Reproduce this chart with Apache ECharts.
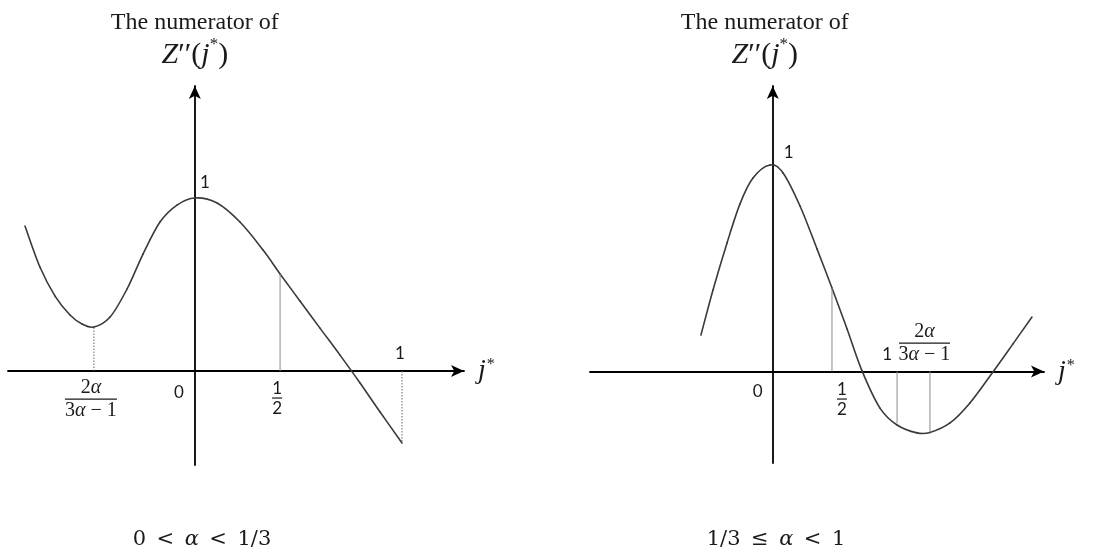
<!DOCTYPE html>
<html>
<head>
<meta charset="utf-8">
<script src="https://cdn.jsdelivr.net/npm/echarts@6/dist/echarts.min.js"></script>
<style>
  html, body { margin: 0; padding: 0; background: #ffffff; }
  #chart { width: 1096px; height: 559px; }
</style>
</head>
<body>
<div id="chart"></div>
<script>
// ---- Case 0 < α < 1/3 : sketch of the numerator of Z''(j*) ----
const leftCurveX = [-1.0, -0.912, -0.823, -0.735, -0.664, -0.594, -0.499, -0.399, -0.305, -0.205, -0.105, 0, 0.131, 0.266, 0.402, 0.502, 0.619, 0.737, 0.855, 0.973, 1.091, 1.22];
const leftCurveY = [0.838, 0.601, 0.433, 0.324, 0.272, 0.254, 0.312, 0.474, 0.676, 0.861, 0.959, 1.0, 0.971, 0.861, 0.699, 0.561, 0.405, 0.248, 0.092, -0.069, -0.237, -0.416];
// marked points on the j* axis and the curve height above them
const leftMarkX = [-0.594, 0.502, 1.22];
const leftMarkY = [0.254, 0.561, -0.416];
const leftMarkLabels = [['2α', '3α − 1'], ['1', '2'], ['1']];
const leftRangeX = [-1.1, 1.585];
const leftRangeY = [-0.543, 1.647];

// ---- Case 1/3 ≤ α < 1 ----
const rightCurveX = [-0.609, -0.507, -0.388, -0.278, -0.168, -0.024, 0.087, 0.231, 0.375, 0.502, 0.630, 0.757, 0.909, 1.054, 1.223, 1.333, 1.503, 1.672, 1.867, 2.037, 2.198];
const rightCurveY = [0.177, 0.395, 0.623, 0.812, 0.937, 1.0, 0.962, 0.802, 0.594, 0.405, 0.206, 0.003, -0.177, -0.259, -0.297, -0.295, -0.249, -0.152, -0.002, 0.134, 0.264];
const rightMarkX = [0.502, 1.054, 1.333];
const rightMarkY = [0.405, -0.25, -0.295];
const rightMarkLabels = [['1', '2'], ['1'], ['2α', '3α − 1']];
const rightRangeX = [-1.55, 2.3];
const rightRangeY = [-0.443, 1.383];

// values written on the vertical axis (origin and the peak height)
const axisNoteY = [0, 1];
const axisNoteLabels = ['0', '1'];

const titleText = 'The numerator of';
const caseLabels = ['0 < α < 1/3', '1/3 ≤ α < 1'];

// ---- styles ----
const FONT_NUM = 'Lato, "Open Sans", sans-serif';
const FONT_MATH = '"Liberation Serif", "DejaVu Serif", serif';
const FONT_CASE = '"DejaVu Serif", serif';
const INK = '#1a1a1a';
const CURVE = '#3a3a3a';

function italicAlpha(s) {
  return s.replace(/α/g, '{i|α}');
}

function textEl(x, y, str, font, align, vAlign) {
  const isMath = font === 'math';
  return {
    type: 'text', x: x, y: y,
    style: {
      text: italicAlpha(str),
      fontFamily: isMath ? FONT_MATH : FONT_NUM,
      fontSize: isMath ? 20 : 17,
      fill: INK,
      align: align || 'center',
      verticalAlign: vAlign || 'middle',
      rich: { i: { fontFamily: FONT_MATH, fontStyle: 'italic', fontSize: 20, fill: INK } }
    }
  };
}

function fractionEls(cx, by, num, den, barW, font) {
  return [
    textEl(cx, by - 1, num, font, 'center', 'bottom'),
    { type: 'line', shape: { x1: cx - barW / 2, y1: by, x2: cx + barW / 2, y2: by },
      style: { stroke: INK, lineWidth: 1.2 } },
    textEl(cx, by + 2, den, font, 'center', 'top')
  ];
}

const dottedDrop = { stroke: '#666', lineWidth: 1, lineDash: [1.5, 1.5] };
const solidDrop = { stroke: '#8a8a8a', lineWidth: 1 };

// label placement (pixel offsets from the foot of each drop line)
const leftMarkLayout = [
  { dx: -3, dy: 28, bar: 52, font: 'math', line: dottedDrop },
  { dx: -3, dy: 27, bar: 10, font: 'num', line: solidDrop },
  { dx: -2, dy: -18, font: 'num', line: dottedDrop }
];
const rightMarkLayout = [
  { dx: 10, dy: 27.5, bar: 10, font: 'num', line: solidDrop },
  { dx: -10, dy: -17, font: 'num', line: solidDrop },
  { dx: -5.5, dy: -28.5, bar: 51, font: 'math', line: solidDrop }
];
const leftNoteLayout = [{ dx: -16, dy: 21 }, { dx: 10, dy: -15 }];
const rightNoteLayout = [{ dx: -15, dy: 20 }, { dx: 16, dy: -13 }];

function markRenderer(labels, layout) {
  return function (params, api) {
    const i = params.dataIndex;
    const x = api.value(0), y = api.value(1);
    const top = api.coord([x, y]);
    const foot = api.coord([x, 0]);
    const L = layout[i];
    const children = [{
      type: 'line',
      shape: { x1: foot[0], y1: foot[1], x2: top[0], y2: top[1] },
      style: L.line
    }];
    const cx = foot[0] + L.dx, cy = foot[1] + L.dy;
    const lab = labels[i];
    if (lab.length === 2) children.push.apply(children, fractionEls(cx, cy, lab[0], lab[1], L.bar, L.font));
    else children.push(textEl(cx, cy, lab[0], L.font));
    return { type: 'group', children: children };
  };
}

function noteRenderer(layout) {
  return function (params, api) {
    const i = params.dataIndex;
    const p = api.coord([0, api.value(1)]);
    return textEl(p[0] + layout[i].dx, p[1] + layout[i].dy, axisNoteLabels[i], 'num');
  };
}

// Catmull-Rom segment from point i to point i+1, in screen space
function splineRenderer(xs, ys) {
  const n = xs.length;
  return function (params, api) {
    const i = params.dataIndex;
    if (i >= n - 1) return null;
    function P(k) {
      k = Math.max(0, Math.min(n - 1, k));
      return api.coord([xs[k], ys[k]]);
    }
    const p0 = P(i - 1), p1 = P(i), p2 = P(i + 1), p3 = P(i + 2);
    return {
      type: 'bezierCurve',
      shape: {
        x1: p1[0], y1: p1[1],
        cpx1: p1[0] + (p2[0] - p0[0]) / 6, cpy1: p1[1] + (p2[1] - p0[1]) / 6,
        cpx2: p2[0] - (p3[0] - p1[0]) / 6, cpy2: p2[1] - (p3[1] - p1[1]) / 6,
        x2: p2[0], y2: p2[1]
      },
      style: { stroke: CURVE, lineWidth: 1.6, fill: 'none', lineCap: 'round' }
    };
  };
}

const axisLine = {
  show: true, onZero: true,
  symbol: ['none', 'arrow'], symbolSize: [9, 13],
  lineStyle: { color: '#000', width: 1.8 }
};

const jName = '{j|j}{s|*}';
const jNameStyle = {
  rich: {
    j: { fontFamily: FONT_MATH, fontStyle: 'italic', fontSize: 28, color: INK },
    s: { fontFamily: FONT_MATH, fontSize: 16, color: INK, verticalAlign: 'top', padding: [0, 0, 12, 1] }
  }
};

const yName = '{t|' + titleText + '}\n{z|Z}{p|′′(}{z|j}{s|*}{p|)}';
function yNameStyle(shift) {
  return {
    padding: [0, shift > 0 ? shift : 0, 0, shift < 0 ? -shift : 0],
    rich: {
      t: { fontFamily: FONT_MATH, fontSize: 24, color: INK, lineHeight: 26, align: 'center' },
      z: { fontFamily: FONT_MATH, fontStyle: 'italic', fontSize: 30, color: INK, lineHeight: 38 },
      p: { fontFamily: FONT_MATH, fontSize: 30, color: INK, lineHeight: 38 },
      s: { fontFamily: FONT_MATH, fontSize: 17, color: INK, verticalAlign: 'top', lineHeight: 38, padding: [0, 0, 15, 0] }
    }
  };
}

function xAxisFor(grid, range) {
  return {
    gridIndex: grid, type: 'value', min: range[0], max: range[1],
    axisLine: axisLine, axisTick: { show: false }, axisLabel: { show: false }, splitLine: { show: false },
    name: jName, nameLocation: 'end', nameGap: 14, nameTextStyle: jNameStyle
  };
}
function yAxisFor(grid, range, shift) {
  return {
    gridIndex: grid, type: 'value', min: range[0], max: range[1],
    axisLine: axisLine, axisTick: { show: false }, axisLabel: { show: false }, splitLine: { show: false },
    name: yName, nameLocation: 'end', nameGap: 12, nameTextStyle: yNameStyle(shift)
  };
}

function zip(xs, ys) { return xs.map(function (x, i) { return [x, ys[i]]; }); }

function caseText(x, str) {
  return {
    type: 'text', x: x, y: 540,
    style: {
      text: italicAlpha(str).replace(/ /g, '\u2002'),
      align: 'center', verticalAlign: 'middle',
      fontFamily: FONT_CASE, fontSize: 21, fill: INK,
      rich: { i: { fontFamily: FONT_CASE, fontStyle: 'italic', fontSize: 21, fill: INK } }
    }
  };
}

const option = {
  backgroundColor: '#ffffff',
  animation: false,
  grid: [
    { left: 8, top: 86, width: 456, height: 379 },
    { left: 590, top: 86, width: 454, height: 377 }
  ],
  xAxis: [xAxisFor(0, leftRangeX), xAxisFor(1, rightRangeX)],
  yAxis: [yAxisFor(0, leftRangeY, 0), yAxisFor(1, rightRangeY, 16)],
  graphic: [caseText(202, caseLabels[0]), caseText(776, caseLabels[1])],
  series: [
    { type: 'custom', name: 'curve-left', xAxisIndex: 0, yAxisIndex: 0, data: zip(leftCurveX, leftCurveY),
      renderItem: splineRenderer(leftCurveX, leftCurveY), silent: true, clip: false },
    { type: 'custom', name: 'curve-right', xAxisIndex: 1, yAxisIndex: 1, data: zip(rightCurveX, rightCurveY),
      renderItem: splineRenderer(rightCurveX, rightCurveY), silent: true, clip: false },
    { type: 'custom', xAxisIndex: 0, yAxisIndex: 0, data: zip(leftMarkX, leftMarkY),
      renderItem: markRenderer(leftMarkLabels, leftMarkLayout), silent: true, clip: false },
    { type: 'custom', xAxisIndex: 1, yAxisIndex: 1, data: zip(rightMarkX, rightMarkY),
      renderItem: markRenderer(rightMarkLabels, rightMarkLayout), silent: true, clip: false },
    { type: 'custom', xAxisIndex: 0, yAxisIndex: 0, data: axisNoteY.map(function (y) { return [0, y]; }),
      renderItem: noteRenderer(leftNoteLayout), silent: true, clip: false },
    { type: 'custom', xAxisIndex: 1, yAxisIndex: 1, data: axisNoteY.map(function (y) { return [0, y]; }),
      renderItem: noteRenderer(rightNoteLayout), silent: true, clip: false }
  ]
};

const chart = echarts.init(document.getElementById('chart'), null, { renderer: 'canvas' });
chart.setOption(option);
</script>
</body>
</html>
